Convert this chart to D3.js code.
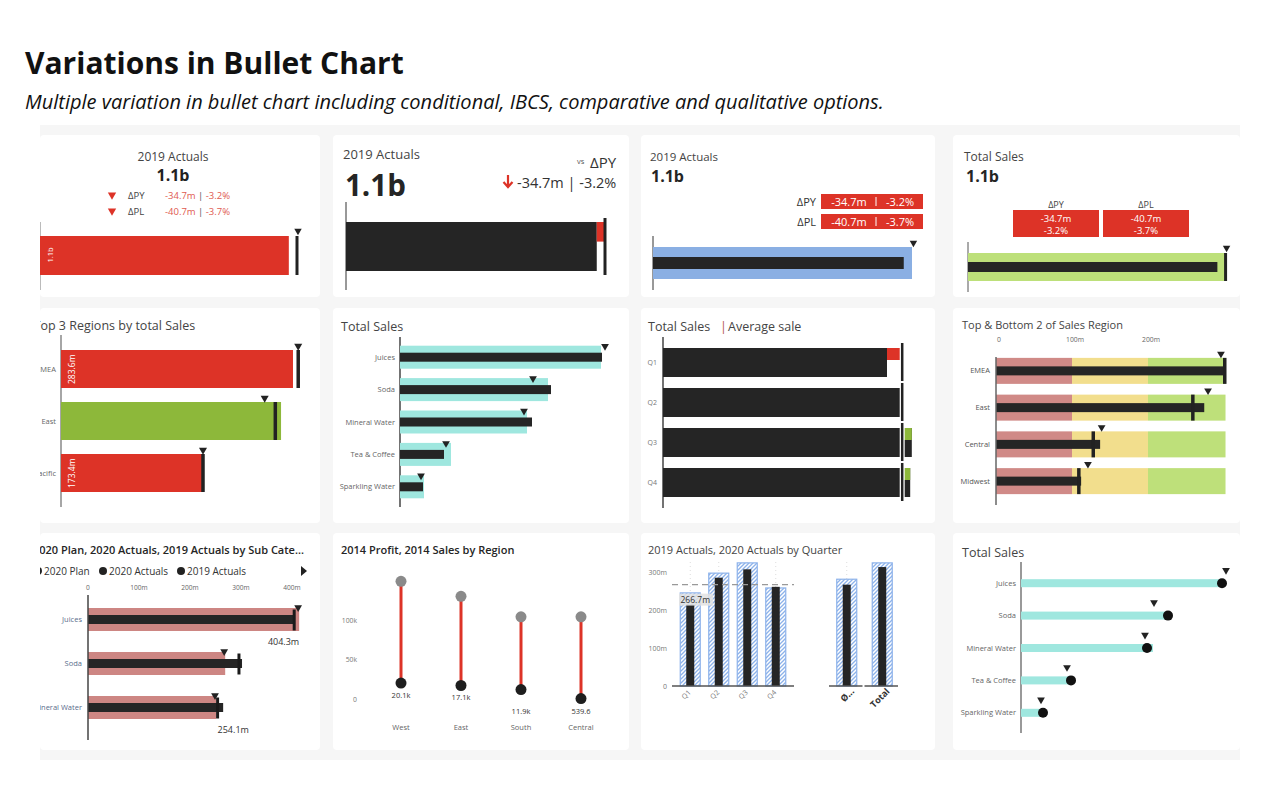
<!DOCTYPE html>
<html><head><meta charset="utf-8">
<script src="https://cdn.jsdelivr.net/npm/d3@7/dist/d3.min.js"></script>
<style>
html,body{margin:0;padding:0;background:#fff;}
svg{display:block;font-family:"Open Sans","Segoe UI",sans-serif;}
</style></head><body>
<svg id="chart" width="1280" height="800"></svg>
<script>
// ================= DATA =================
const chartTitle = "Variations in Bullet Chart";
const chartSubtitle = "Multiple variation in bullet chart including conditional, IBCS, comparative and qualitative options.";

// Row 1 – KPI bullets (millions)
const kpiTitles = ["2019 Actuals", "2019 Actuals", "2019 Actuals", "Total Sales"];
const kpiLabel = "1.1b";
const kpiActual = 1055;
const kpiPY = 1089.7;
const kpiPL = 1095.7;
const deltaNames = ["ΔPY", "ΔPL"];
const deltaAbs = ["-34.7m", "-40.7m"];
const deltaPct = ["-3.2%", "-3.7%"];

// Top 3 regions
const topRegions = ["EMEA", "East", "Pacific"];
const topSales = [283.6, 269, 173.4];
const topTarget = [290, 262, 173.6];
const topPrior = [290, 249, 173.6];
const topLabels = ["283.6m", "", "173.4m"];

// Products – Total Sales bullet
const products = ["Juices", "Soda", "Mineral Water", "Tea & Coffee", "Sparkling Water"];
const prodSales = [404, 302, 264, 88, 46];
const prodPrior = [402, 296, 254, 102, 48];
const prodTarget = [410, 266, 248, 92, 42];

// Quarters – Total Sales | Average sale
const quarters = ["Q1", "Q2", "Q3", "Q4"];
const qSales = [280, 299, 311, 309];
const qAverage = 299;

// Top & bottom 2 regions – qualitative bands
const tbRegions = ["EMEA", "East", "Central", "Midwest"];
const tbSales = [302, 274, 137, 112];
const tbPrior = [301, 259, 128, 109];
const tbTarget = [296, 279, 139, 121];
const tbBands = [100, 200, 302];
const tbTicks = [0, 100, 200];
const tbTickLabels = ["0", "100m", "200m"];

// Sub categories – plan / actuals
const subCats = ["Juices", "Soda", "Mineral Water"];
const plan2020 = [414, 269, 251];
const act2020 = [406, 302, 265];
const act2019 = [404.3, 296, 254.1];
const act2019Labels = ["404.3m", "", "254.1m"];
const subTicks = [0, 100, 200, 300, 400];
const subTickLabels = ["0", "100m", "200m", "300m", "400m"];
const subLegend = ["2020 Plan", "2020 Actuals", "2019 Actuals"];

// 2014 profit vs sales
const regions2014 = ["West", "East", "South", "Central"];
const sales2014 = [149000, 130000, 104000, 104000];
const profit2014 = [20100, 17100, 11900, 539.6];
const profitLabels = ["20.1k", "17.1k", "11.9k", "539.6"];
const profitTicks = [0, 50000, 100000];
const profitTickLabels = ["0", "50k", "100k"];

// Quarterly columns
const qCols = ["Q1", "Q2", "Q3", "Q4"];
const q2019 = [245, 297, 324, 258];
const q2020 = [214, 285, 307, 261];
const summaryCols = ["Ø...", "Total"];
const summary2019 = [281, 324];
const summary2020 = [266.7, 313];
const qAvgLabel = "266.7m";
const qTicks = [0, 100, 200, 300];
const qTickLabels = ["0", "100m", "200m", "300m"];

// Lollipop – Total Sales
const lolliBar = [402, 294, 264, 98, 44];
const lolliDot = [402, 294, 252, 100, 44];
const lolliTarget = [410, 266, 248, 92, 40];

// ================= DRAW =================
const RED = "#dd3327", BLACK = "#252525", TEAL = "#9fe7df";
const svg = d3.select("#chart");
const defs = svg.append("defs");
const pat = defs.append("pattern").attr("id", "hatch").attr("patternUnits", "userSpaceOnUse")
  .attr("width", 4).attr("height", 4);
pat.append("rect").attr("width", 4).attr("height", 4).attr("fill", "#fff");
pat.append("path").attr("d", "M-1,1 l2,-2 M0,4 l4,-4 M3,5 l2,-2")
  .attr("stroke", "#8db2ea").attr("stroke-width", 1.3);

svg.append("text").attr("x", 25).attr("y", 74).attr("font-size", 30).attr("font-weight", 700)
  .attr("fill", "#111").text(chartTitle);
svg.append("text").attr("x", 25).attr("y", 109).attr("font-size", 20).attr("font-style", "italic")
  .attr("fill", "#111").text(chartSubtitle);

svg.append("rect").attr("x", 40).attr("y", 125).attr("width", 1200).attr("height", 635).attr("fill", "#f6f6f6");

const cols = [[40, 320], [333, 629], [641, 935], [953, 1240]];
const rows = [[135, 297], [308, 523], [533, 750]];
function card(ci, ri, id) {
  const [x0, x1] = cols[ci], [y0, y1] = rows[ri];
  defs.append("clipPath").attr("id", id).append("rect")
    .attr("x", x0).attr("y", y0).attr("width", x1 - x0).attr("height", y1 - y0);
  svg.append("rect").attr("x", x0).attr("y", y0).attr("width", x1 - x0).attr("height", y1 - y0)
    .attr("rx", 4).attr("fill", "#fff");
  return svg.append("g").attr("clip-path", `url(#${id})`);
}
function T(g, x, y, s, size, o = {}) {
  return g.append("text").attr("x", x).attr("y", y).attr("font-size", size)
    .attr("fill", o.fill || "#333").attr("text-anchor", o.anchor || "start")
    .attr("font-weight", o.weight || 400).text(s);
}
const triSym = d3.symbol().type(d3.symbolTriangle);
function tri(g, x, y, size = 26, fill = "#222") {
  g.append("path").attr("d", triSym.size(size)()).attr("fill", fill)
    .attr("transform", `translate(${x},${y}) rotate(180)`);
}
function vline(g, x, y1, y2, w = 1, c = "#444") {
  g.append("line").attr("x1", x).attr("x2", x).attr("y1", y1).attr("y2", y2)
    .attr("stroke", c).attr("stroke-width", w);
}

// ---------- Panel 1 ----------
{
  const g = card(0, 0, "c1");
  const x = d3.scaleLinear().domain([0, kpiPY]).range([40, 297]);
  const y = d3.scaleBand().domain(["v"]).range([236, 275]);
  T(g, 173, 161, kpiTitles[0], 12, { anchor: "middle", fill: "#444" });
  T(g, 173, 181, kpiLabel, 16, { anchor: "middle", weight: 700, fill: "#222" });
  deltaNames.forEach((n, i) => {
    const yy = 195 + i * 16;
    tri(g, 112, yy, 30, RED);
    T(g, 128, yy + 3.5, n, 9.5, { fill: "#444" });
    const t = T(g, 165, yy + 3.5, "", 9.5, { fill: "#e05a50" });
    t.append("tspan").text(deltaAbs[i]);
    t.append("tspan").attr("fill", "#555").text("  |  ");
    t.append("tspan").text(deltaPct[i]);
  });
  vline(g, 40.5, 222, 290, 1, "#bbb");
  g.append("rect").attr("x", x(0)).attr("y", y("v")).attr("width", x(kpiActual) - x(0))
    .attr("height", y.bandwidth()).attr("fill", RED);
  g.append("text").attr("transform", `translate(53,${y("v") + y.bandwidth() / 2 + 7}) rotate(-90)`)
    .attr("font-size", 7.5).attr("fill", "#fff").text(kpiLabel);
  vline(g, x(kpiPY), y("v"), y("v") + y.bandwidth(), 3, "#222");
  tri(g, x(kpiPY) + 1, 231, 24);
}

// ---------- Panel 2 ----------
{
  const g = card(1, 0, "c2");
  const x = d3.scaleLinear().domain([0, kpiPY]).range([346, 605]);
  const y = d3.scaleBand().domain(["v"]).range([222, 271]);
  T(g, 343, 159, kpiTitles[1], 13, { fill: "#444" });
  T(g, 345, 196, kpiLabel, 29.5, { weight: 700, fill: BLACK });
  T(g, 577, 164, "vs", 7.5, { fill: "#555" });
  T(g, 590, 168, deltaNames[0], 15, { fill: "#333" });
  g.append("path").attr("d", "M508,175V187M503.5,182L508,187L512.5,182")
    .attr("stroke", RED).attr("stroke-width", 2.2).attr("fill", "none");
  T(g, 517, 188, `${deltaAbs[0]} | ${deltaPct[0]}`, 14.5, { fill: "#333" });
  vline(g, x(0), 202, 290, 1, "#333");
  g.append("rect").attr("x", x(0)).attr("y", y("v")).attr("width", x(kpiActual) - x(0))
    .attr("height", y.bandwidth()).attr("fill", BLACK);
  g.append("rect").attr("x", x(kpiActual)).attr("y", y("v")).attr("width", x(kpiPY) - x(kpiActual))
    .attr("height", y.bandwidth() * 0.4).attr("fill", RED);
  vline(g, x(kpiPY), y("v") - 4, y("v") + y.bandwidth() + 4, 3, "#222");
}

// ---------- Panel 3 ----------
{
  const g = card(2, 0, "c3");
  const x = d3.scaleLinear().domain([0, kpiPY]).range([653, 912]);
  const y = d3.scaleBand().domain(["v"]).range([247, 279]);
  T(g, 650, 161, kpiTitles[2], 11.5, { fill: "#444" });
  T(g, 651, 182, kpiLabel, 16, { weight: 700, fill: BLACK });
  deltaNames.forEach((n, i) => {
    const yy = 194 + i * 20;
    T(g, 816, yy + 12, n, 11, { anchor: "end", fill: "#333" });
    g.append("rect").attr("x", 821).attr("y", yy).attr("width", 102).attr("height", 15).attr("fill", RED);
    T(g, 849, yy + 11.5, deltaAbs[i], 11, { anchor: "middle", fill: "#fff" });
    vline(g, 876, yy + 3, yy + 12, 1, "#fff");
    T(g, 900, yy + 11.5, deltaPct[i], 11, { anchor: "middle", fill: "#fff" });
  });
  vline(g, x(0), 236, 290, 1, "#333");
  g.append("rect").attr("x", x(0)).attr("y", y("v")).attr("width", x(kpiPY) - x(0))
    .attr("height", y.bandwidth()).attr("fill", "#8aafe3");
  g.append("rect").attr("x", x(0)).attr("y", y("v") + 10).attr("width", x(kpiActual) - x(0))
    .attr("height", 12).attr("fill", BLACK);
  tri(g, x(kpiPL), 243, 24);
}

// ---------- Panel 4 ----------
{
  const g = card(3, 0, "c4");
  const x = d3.scaleLinear().domain([0, kpiPL]).range([968, 1227]);
  const y = d3.scaleBand().domain(["v"]).range([253, 281]);
  T(g, 964, 161, kpiTitles[3], 12, { fill: "#444" });
  T(g, 966, 182, kpiLabel, 16, { weight: 700, fill: BLACK });
  deltaNames.forEach((n, i) => {
    const x0 = 1013 + i * 90;
    T(g, x0 + 43, 208, n, 9, { anchor: "middle", fill: "#444" });
    g.append("rect").attr("x", x0).attr("y", 210).attr("width", 86).attr("height", 27).attr("fill", RED);
    T(g, x0 + 43, 221.5, deltaAbs[i], 9.5, { anchor: "middle", fill: "#fff" });
    T(g, x0 + 43, 234, deltaPct[i], 9.5, { anchor: "middle", fill: "#fff" });
  });
  vline(g, x(0), 242, 292, 1, "#555");
  g.append("rect").attr("x", x(0)).attr("y", y("v")).attr("width", x(kpiPL) - x(0))
    .attr("height", y.bandwidth()).attr("fill", "#bde07a");
  g.append("rect").attr("x", x(0)).attr("y", y("v") + 9).attr("width", x(kpiActual) - x(0))
    .attr("height", 10).attr("fill", BLACK);
  vline(g, x(kpiPY), y("v"), y("v") + y.bandwidth(), 3, "#222");
  tri(g, x(kpiPY) + 1, 248, 24);
}

// ---------- Panel 5: Top 3 regions ----------
{
  const g = card(0, 1, "c5");
  const x = d3.scaleLinear().domain([0, 300]).range([61, 306.4]);
  const y = d3.scaleBand().domain(topRegions).range([343, 499]);
  const h = 38;
  T(g, 33.5, 330, "Top 3 Regions by total Sales", 12.5, { fill: "#444" });
  vline(g, x(0), 335, 507, 1.5, "#888");
  topRegions.forEach((r, i) => {
    const cy = y(r) + y.bandwidth() / 2;
    const good = topSales[i] >= topTarget[i];
    g.append("rect").attr("x", x(0)).attr("y", cy - h / 2).attr("width", x(topSales[i]) - x(0))
      .attr("height", h).attr("fill", good ? "#8db83a" : RED);
    vline(g, x(topTarget[i]), cy - h / 2, cy + h / 2, 3.5, "#222");
    tri(g, x(topPrior[i]), cy - h / 2 - 4, 28);
    T(g, 56, cy + 2.5, r, 7.5, { anchor: "end", fill: "#666" });
    if (topLabels[i]) {
      g.append("text").attr("transform", `translate(75,${cy + h / 2 - 4}) rotate(-90)`)
        .attr("font-size", 8.5).attr("fill", "#fff").text(topLabels[i]);
    }
  });
}

// ---------- Panel 6: Total Sales by product ----------
{
  const g = card(1, 1, "c6");
  const x = d3.scaleLinear().domain([0, 420]).range([400, 610]);
  const y = d3.scaleBand().domain(products).range([341, 503]);
  T(g, 341, 331, "Total Sales", 12.5, { fill: "#444" });
  vline(g, x(0), 337, 507, 1.5, "#444");
  const r = g.selectAll("g.row").data(products).join("g");
  r.append("rect").attr("x", x(0)).attr("y", d => y(d) + y.bandwidth() / 2 - 11.5)
    .attr("width", (d, i) => x(prodPrior[i]) - x(0)).attr("height", 23).attr("fill", TEAL);
  r.append("rect").attr("x", x(0)).attr("y", d => y(d) + y.bandwidth() / 2 - 4.5)
    .attr("width", (d, i) => x(prodSales[i]) - x(0)).attr("height", 9).attr("fill", BLACK);
  r.append("path").attr("d", triSym.size(26)()).attr("fill", "#222")
    .attr("transform", (d, i) => `translate(${x(prodTarget[i])},${y(d) + y.bandwidth() / 2 - 11}) rotate(180)`);
  r.append("text").attr("x", 395).attr("y", d => y(d) + y.bandwidth() / 2 + 2.5)
    .attr("text-anchor", "end").attr("font-size", 7.5).attr("fill", "#666").text(d => d);
}

// ---------- Panel 7: Total Sales | Average sale ----------
{
  const g = card(2, 1, "c7");
  const x = d3.scaleLinear().domain([0, 300]).range([663, 903]);
  const y = d3.scaleBand().domain(quarters).range([342.5, 502.5]);
  const h = 29;
  T(g, 648, 331, "Total Sales", 12.5, { fill: "#444" });
  T(g, 720, 331, "|", 12.5, { fill: "#b5544b" });
  T(g, 728, 331, "Average sale", 12.5, { fill: "#444" });
  vline(g, x(0), 337, 508, 1.5, "#444");
  quarters.forEach((q, i) => {
    const cy = y(q) + y.bandwidth() / 2;
    g.append("rect").attr("x", x(0)).attr("y", cy - h / 2).attr("width", x(qSales[i]) - x(0))
      .attr("height", h).attr("fill", BLACK);
    if (qSales[i] < qAverage) {
      g.append("rect").attr("x", x(qSales[i])).attr("y", cy - h / 2).attr("width", x(qAverage) - x(qSales[i]))
        .attr("height", 12).attr("fill", RED);
    } else if (qSales[i] > qAverage) {
      g.append("rect").attr("x", x(qAverage)).attr("y", cy - h / 2).attr("width", x(qSales[i]) - x(qAverage))
        .attr("height", 12).attr("fill", "#8db83a");
    }
    vline(g, x(qAverage), cy - h / 2 - 5, cy + h / 2 + 4, 5, "#fff");
    vline(g, x(qAverage), cy - h / 2 - 5, cy + h / 2 + 4, 2.5, "#222");
    T(g, 657, cy + 2.5, q, 7, { anchor: "end", fill: "#777" });
  });
}

// ---------- Panel 8: Top & Bottom 2 ----------
{
  const g = card(3, 1, "c8");
  const x = d3.scaleLinear().domain([0, 300]).range([996, 1224]);
  const y = d3.scaleBand().domain(tbRegions).range([352.5, 499.5]);
  const bandCols = ["#d08a87", "#f2de8d", "#bee07a"];
  const h = 26;
  T(g, 962, 329, "Top & Bottom 2 of Sales Region", 11, { fill: "#444" });
  tbTicks.forEach((t, i) => T(g, x(t) + 3, 342, tbTickLabels[i], 6.8, { anchor: "middle", fill: "#666" }));
  tbRegions.forEach((r, i) => {
    const cy = y(r) + y.bandwidth() / 2;
    let prev = 0;
    tbBands.forEach((b, k) => {
      g.append("rect").attr("x", x(prev)).attr("y", cy - h / 2).attr("width", x(b) - x(prev))
        .attr("height", h).attr("fill", bandCols[k]);
      prev = b;
    });
    g.append("rect").attr("x", x(0)).attr("y", cy - 4.5).attr("width", x(tbSales[i]) - x(0))
      .attr("height", 9).attr("fill", BLACK);
    vline(g, x(tbPrior[i]), cy - h / 2, cy + h / 2, 3.5, "#222");
    tri(g, x(tbTarget[i]), cy - h / 2 - 4, 26);
    T(g, 990, cy + 2.5, r, 7.5, { anchor: "end", fill: "#555" });
  });
  vline(g, x(0), 357, 505, 1.5, "#666");
}

// ---------- Panel 9: Plan / Actuals by sub category ----------
{
  const g = card(0, 2, "c9");
  const x = d3.scaleLinear().domain([0, 400]).range([88, 292]);
  const y = d3.scaleBand().domain(subCats).range([597.5, 729.5]);
  T(g, 33, 554, "2020 Plan, 2020 Actuals, 2019 Actuals by Sub Cate...", 11, { weight: 600, fill: "#252525" });
  const legX = [38, 103, 181];
  subLegend.forEach((s, i) => {
    g.append("circle").attr("cx", legX[i]).attr("cy", 571).attr("r", 4).attr("fill", "#222");
    T(g, legX[i] + 6, 575, s, 10, { fill: "#333" });
  });
  g.append("path").attr("d", "M301,566L307,571L301,576Z").attr("fill", "#222");
  subTicks.forEach((t, i) => T(g, x(t), 590, subTickLabels[i], 6.6, { anchor: "middle", fill: "#666" }));
  subCats.forEach((c, i) => {
    const cy = y(c) + y.bandwidth() / 2;
    g.append("rect").attr("x", x(0)).attr("y", cy - 11.5).attr("width", x(plan2020[i]) - x(0))
      .attr("height", 23).attr("fill", "#cd8683");
    g.append("rect").attr("x", x(0)).attr("y", cy - 4.5).attr("width", x(act2020[i]) - x(0))
      .attr("height", 9).attr("fill", BLACK);
    vline(g, x(act2019[i]), cy - 10, cy + 11, 3, "#1a1a1a");
    tri(g, x(plan2020[i]) - 1, cy - 12, 26);
    T(g, 82, cy + 2.5, c, 7.5, { anchor: "end", fill: "#5a6e8c" });
    if (act2019Labels[i]) {
      const first = i === 0;
      T(g, first ? x(act2019[i]) + 5 : x(act2019[i]), cy + 25, act2019Labels[i], 9,
        { anchor: first ? "end" : "start", fill: "#333" });
    }
  });
  vline(g, x(0), 595, 740, 1.5, "#444");
}

// ---------- Panel 10: Profit vs Sales lollipop ----------
{
  const g = card(1, 2, "c10");
  const x = d3.scalePoint().domain(regions2014).range([401, 581]);
  const y = d3.scaleLinear().domain([0, 100000]).range([699, 620]);
  T(g, 341, 554, "2014 Profit, 2014 Sales by Region", 11, { weight: 600, fill: "#252525" });
  profitTicks.forEach((t, i) => T(g, 357, y(t) + 2.5, profitTickLabels[i], 6.8, { anchor: "end", fill: "#777" }));
  regions2014.forEach((r, i) => {
    g.append("line").attr("x1", x(r)).attr("x2", x(r)).attr("y1", y(sales2014[i])).attr("y2", y(profit2014[i]))
      .attr("stroke", RED).attr("stroke-width", 3);
    g.append("circle").attr("cx", x(r)).attr("cy", y(sales2014[i])).attr("r", 5.5).attr("fill", "#8a8a8a");
    g.append("circle").attr("cx", x(r)).attr("cy", y(profit2014[i])).attr("r", 5.5).attr("fill", "#1e1e1e");
    const low = y(profit2014[i]) > y(15000);
    T(g, x(r), low ? 714 : y(profit2014[i]) + 14.5, profitLabels[i], 7.5, { anchor: "middle", fill: "#333" });
    T(g, x(r), 730, r, 7.5, { anchor: "middle", fill: "#666" });
  });
}

// ---------- Panel 11: Quarterly columns ----------
{
  const g = card(2, 2, "c11");
  const y = d3.scaleLinear().domain([0, 300]).range([686, 572]);
  const xq = d3.scaleBand().domain(qCols).range([676, 790]);
  const xs = d3.scaleBand().domain(summaryCols).range([829, 900]);
  T(g, 648, 554, "2019 Actuals, 2020 Actuals by Quarter", 11, { fill: "#444" });
  qTicks.forEach((t, i) => T(g, 667, y(t) + 2.5, qTickLabels[i], 7, { anchor: "end", fill: "#777" }));
  function cols(names, xs, v19, v20, bold) {
    names.forEach((n, i) => {
      const cx = xs(n) + xs.bandwidth() / 2;
      g.append("line").attr("x1", cx).attr("x2", cx).attr("y1", 562).attr("y2", 686)
        .attr("stroke", "#ddd").attr("stroke-dasharray", "1,3");
      g.append("rect").attr("x", cx - 10).attr("y", y(v19[i])).attr("width", 20).attr("height", y(0) - y(v19[i]))
        .attr("fill", "url(#hatch)").attr("stroke", "#8db2ea").attr("stroke-width", 1.2);
      g.append("rect").attr("x", cx - 4).attr("y", y(v20[i])).attr("width", 8).attr("height", y(0) - y(v20[i]))
        .attr("fill", BLACK);
      g.append("text").attr("transform", `translate(${cx + (bold ? 8 : 1)},${bold ? 692 : 693}) rotate(-45)`)
        .attr("text-anchor", "end").attr("font-size", bold ? 9 : 7)
        .attr("font-weight", bold ? 700 : 400).attr("fill", bold ? "#333" : "#777").text(n);
    });
  }
  cols(qCols, xq, q2019, q2020, false);
  cols(summaryCols, xs, summary2019, summary2020, true);
  g.append("line").attr("x1", 672).attr("x2", 794).attr("y1", y(0)).attr("y2", y(0)).attr("stroke", "#555").attr("stroke-width", 1.5);
  summaryCols.forEach(n => {
    g.append("line").attr("x1", xs(n)).attr("x2", xs(n) + xs.bandwidth() - 2).attr("y1", y(0)).attr("y2", y(0))
      .attr("stroke", "#555").attr("stroke-width", 1.5);
  });
  const avg = d3.mean(q2020);
  g.append("line").attr("x1", 672).attr("x2", 794).attr("y1", y(avg)).attr("y2", y(avg))
    .attr("stroke", "#999").attr("stroke-width", 1.3).attr("stroke-dasharray", "6,4");
  g.append("rect").attr("x", 679).attr("y", y(avg) + 9).attr("width", 34).attr("height", 12)
    .attr("fill", "#e2e2e2").attr("opacity", 0.85);
  T(g, 680.5, y(avg) + 18.5, qAvgLabel, 8.5, { fill: "#333" });
}

// ---------- Panel 12: Lollipop Total Sales ----------
{
  const g = card(3, 2, "c12");
  const x = d3.scaleLinear().domain([0, 420]).range([1021, 1231]);
  const y = d3.scaleBand().domain(products).range([567, 729]);
  T(g, 962, 557, "Total Sales", 12.5, { fill: "#444" });
  vline(g, x(0), 562, 733, 1.5, "#777");
  products.forEach((p, i) => {
    const cy = y(p) + y.bandwidth() / 2;
    g.append("rect").attr("x", x(0)).attr("y", cy - 4).attr("width", x(lolliBar[i]) - x(0))
      .attr("height", 8).attr("fill", TEAL);
    g.append("circle").attr("cx", x(lolliDot[i])).attr("cy", cy).attr("r", 5).attr("fill", "#111");
    tri(g, x(lolliTarget[i]), cy - 13, 26);
    T(g, 1016, cy + 2.5, p, 7.5, { anchor: "end", fill: "#666" });
  });
}
</script>
</body></html>
